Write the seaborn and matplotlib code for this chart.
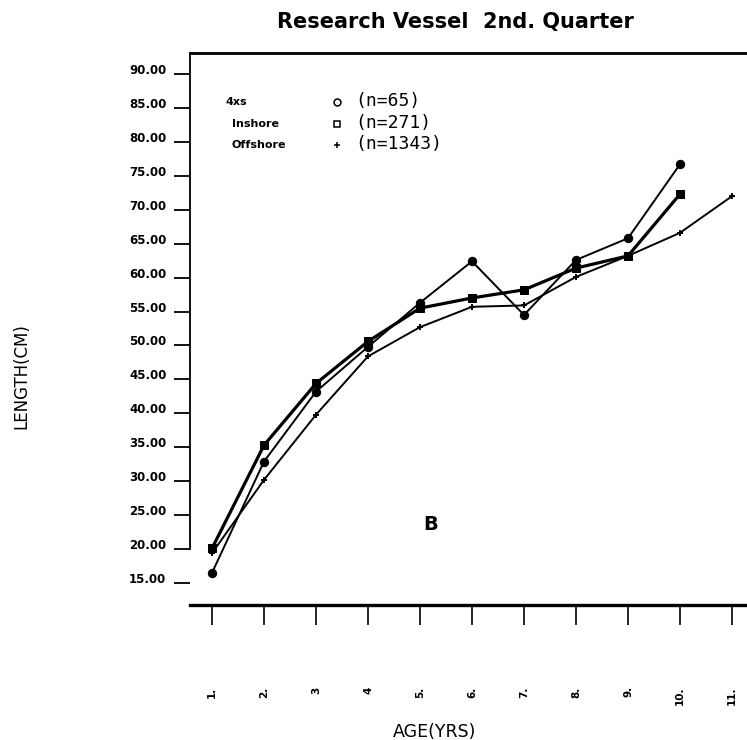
import matplotlib
matplotlib.use("Agg")
import matplotlib.pyplot as plt
import matplotlib.transforms as mtransforms
import numpy as np
import pandas as pd
import seaborn as sns

# ---- data ----
ages_short = [1, 2, 3, 4, 5, 6, 7, 8, 9, 10]
ages_long = [1, 2, 3, 4, 5, 6, 7, 8, 9, 10, 11]
len_4xs = [16.5, 32.9, 43.2, 49.8, 56.3, 62.4, 54.5, 62.6, 65.8, 76.7]
len_inshore = [20.1, 35.3, 44.4, 50.6, 55.5, 57.0, 58.2, 61.4, 63.2, 72.3]
len_offshore = [19.4, 30.2, 39.8, 48.4, 52.7, 55.7, 55.9, 60.1, 63.2, 66.6, 72.0]

legend_names = ["4xs", "Inshore", "Offshore"]
legend_counts = ["(n=65)", "(n=271)", "(n=1343)"]
y_ticks = [15, 20, 25, 30, 35, 40, 45, 50, 55, 60, 65, 70, 75, 80, 85, 90]
x_tick_labels = ["1.", "2.", "3", "4", "5.", "6.", "7.", "8.", "9.", "10.", "11."]

title = "Research Vessel  2nd. Quarter"
x_label = "AGE(YRS)"
y_label = "LENGTH(CM)"
panel_letter = "B"

sns.set_theme(style="white")
plt.rcParams["font.family"] = ["DejaVu Sans"]
plt.rcParams["text.color"] = "black"
plt.rcParams["xtick.color"] = "black"
plt.rcParams["ytick.color"] = "black"
plt.rcParams["axes.labelcolor"] = "black"

W, H = 747, 740
fig = plt.figure(figsize=(W / 100, H / 100), dpi=100)

# axes geometry in pixels
ax_left, ax_right, ax_top, ax_bottom = 190, 747, 53, 605
ax = fig.add_axes([ax_left / W, 1 - ax_bottom / H, (ax_right - ax_left) / W, (ax_bottom - ax_top) / H])

df4 = pd.DataFrame({"age": ages_short, "length": len_4xs})
dfi = pd.DataFrame({"age": ages_short, "length": len_inshore})
dfo = pd.DataFrame({"age": ages_long, "length": len_offshore})

sns.lineplot(data=dfo, x="age", y="length", ax=ax, color="black", linewidth=1.4,
             marker="+", markersize=4, markeredgewidth=1.4, markeredgecolor="black", zorder=3)
sns.lineplot(data=df4, x="age", y="length", ax=ax, color="black", linewidth=1.4,
             marker="o", markersize=6, markerfacecolor="black", markeredgecolor="black", zorder=4)
sns.lineplot(data=dfi, x="age", y="length", ax=ax, color="black", linewidth=2.3,
             marker="s", markersize=5.5, markerfacecolor="black", markeredgecolor="black", zorder=5)

# scales: age 1 at x=212 px, 52 px per year; 90 at y=74, 6.787 px per unit
px_per_year = 52.0
ax.set_xlim(1 - (212 - ax_left) / px_per_year, 1 + (ax_right - 212) / px_per_year)
px_per_unit = 6.787
ax.set_ylim(90 - (ax_bottom - 74) / px_per_unit, 90 + (74 - ax_top) / px_per_unit)

# spines
for s in ["top", "left", "bottom"]:
    ax.spines[s].set_visible(True)
    ax.spines[s].set_color("black")
ax.spines["right"].set_visible(False)
ax.spines["top"].set_linewidth(2.0)
ax.spines["left"].set_linewidth(1.3)
ax.spines["bottom"].set_linewidth(2.4)
ax.spines["left"].set_bounds(20, ax.get_ylim()[1])

ax.set_yticks(y_ticks)
ax.set_yticklabels([f"{v:.2f}" for v in y_ticks], fontsize=8.5, fontweight="bold", color="black")
ax.set_xticks(ages_long)
ax.set_xticklabels(x_tick_labels, rotation=90, fontsize=7.5, fontweight="bold", color="black")
ax.tick_params(axis="y", direction="out", length=11.5, width=1.3, pad=5.5, left=True, color="black")
ax.tick_params(axis="x", direction="out", length=14.5, width=1.2, pad=44, bottom=True, color="black")
off = mtransforms.ScaledTranslation(0, 5 / 100, fig.dpi_scale_trans)
for lbl in ax.get_yticklabels():
    lbl.set_transform(lbl.get_transform() + off)

ax.set_xlabel("")
ax.set_ylabel("")
ax.grid(False)

# text
fig.text(455 / W, 1 - 22 / H, title, ha="center", va="center", fontsize=15, fontweight="bold", color="black")
fig.text(435 / W, 1 - 732 / H, x_label, ha="center", va="center", fontsize=12.5, color="black")
fig.text(21 / W, 1 - 376 / H, y_label, ha="center", va="center", fontsize=12, rotation=90, color="black")
fig.text(431 / W, 1 - 524 / H, panel_letter, ha="center", va="center", fontsize=14, fontweight="bold", color="black")

# legend built from text + markers
name_y = [102, 124, 145]
name_x = [226, 232, 232]
sym_markers = ["o", "s", "+"]
for i in range(3):
    fig.text(name_x[i] / W, 1 - name_y[i] / H, legend_names[i], ha="left", va="center",
             fontsize=8, fontweight="bold", color="black")
    fig.text(355 / W, 1 - (name_y[i] - 1) / H, legend_counts[i], ha="left", va="center",
             fontsize=13, family="DejaVu Sans Mono", color="black")
    ax.plot([337 / W], [1 - name_y[i] / H], transform=fig.transFigure, marker=sym_markers[i],
            markersize=5, markerfacecolor="white", markeredgecolor="black", markeredgewidth=1.1,
            linestyle="none", clip_on=False)

fig.savefig("out.png", dpi=100)
